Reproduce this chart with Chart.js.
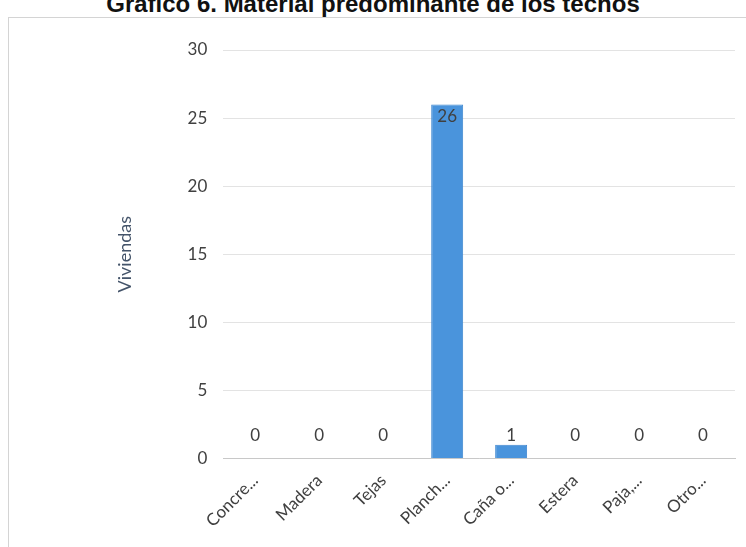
<!DOCTYPE html>
<html>
<head>
<meta charset="utf-8">
<script src="https://cdn.jsdelivr.net/npm/chart.js@4.4.1/dist/chart.umd.min.js"></script>
<style>
  html, body { margin: 0; padding: 0; background: #fff; overflow: hidden; }
  #marco { position: absolute; left: 8px; top: 17px; width: 750px; height: 540px; border: 1px solid #d4d4d4; }
  #titulo { position: absolute; left: 0; width: 746px; top: -10px; text-align: center;
            font-family: "Liberation Sans Narrow", "Liberation Sans", Arial, sans-serif; font-weight: bold;
            font-size: 24px; color: #111; }
  #contenedor { position: absolute; left: 0; top: 0; width: 746px; height: 547px; }
</style>
</head>
<body>
<div id="marco"></div>
<div id="titulo">Gráfico 6. Material predominante de los techos</div>
<div id="contenedor"><canvas id="grafico"></canvas></div>
<script>
const categorias = ['Concre...', 'Madera', 'Tejas', 'Planch...', 'Caña o...', 'Estera', 'Paja,...', 'Otro...'];
const viviendas = [0, 0, 0, 26, 1, 0, 0, 0];
const ticksY = [0, 5, 10, 15, 20, 25, 30];

const fuente = 'Lato, "Open Sans", sans-serif';

// etiquetas de datos, como en Excel
const etiquetasDatos = {
    id: 'etiquetasDatos',
    afterDatasetsDraw(chart) {
        const ctx = chart.ctx;
        const meta = chart.getDatasetMeta(0);
        ctx.save();
        ctx.font = '17px ' + fuente;
        ctx.fillStyle = '#404040';
        ctx.textAlign = 'center';
        meta.data.forEach(function(bar, i) {
            const v = viviendas[i];
            if (v >= 10) {
                ctx.textBaseline = 'top';
                ctx.fillText(v, bar.x, bar.y + 4);
            } else {
                ctx.textBaseline = 'bottom';
                ctx.fillText(v, bar.x, bar.y - (v === 0 ? 14 : 1));
            }
        });
        ctx.restore();
    }
};

new Chart(document.getElementById('grafico'), {
    type: 'bar',
    data: {
        labels: categorias,
        datasets: [{
            label: 'Viviendas',
            data: viviendas,
            backgroundColor: '#4a94dc',
            borderColor: '#3f87d0',
            borderWidth: 1,
            categoryPercentage: 1,
            barPercentage: 0.5
        }]
    },
    options: {
        responsive: true,
        maintainAspectRatio: false,
        animation: false,
        layout: { padding: { left: 110, right: 11, top: 50, bottom: 12 } },
        plugins: {
            legend: { display: false },
            tooltip: { enabled: false }
        },
        scales: {
            y: {
                min: 0,
                max: 30,
                afterBuildTicks: function(axis) {
                    axis.ticks = ticksY.map(function(v) { return { value: v }; });
                },
                grid: { color: '#e3e3e3', drawTicks: false },
                border: { display: false },
                ticks: { color: '#404040', font: { family: fuente, size: 17 }, padding: 16 },
                title: {
                    display: true,
                    text: 'Viviendas',
                    color: '#44546a',
                    font: { family: fuente, size: 18 },
                    padding: { bottom: 36 }
                }
            },
            x: {
                grid: { display: false },
                border: { color: '#c8c8c8' },
                ticks: {
                    color: '#404040',
                    font: { family: fuente, size: 17 },
                    maxRotation: 45,
                    minRotation: 45,
                    padding: 4
                }
            }
        }
    },
    plugins: [etiquetasDatos]
});
</script>
</body>
</html>
